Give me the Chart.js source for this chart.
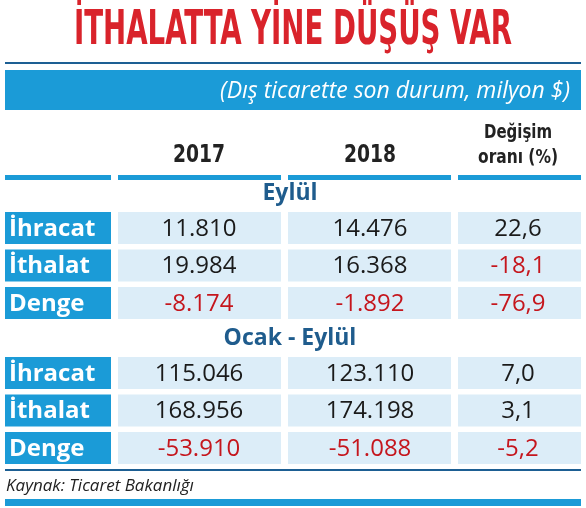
<!DOCTYPE html>
<html>
<head>
<meta charset="utf-8">
<script src="https://cdn.jsdelivr.net/npm/chart.js@4.4.0/dist/chart.umd.min.js"></script>
<style>
  html, body { margin: 0; padding: 0; background: #fff; }
  #wrap { width: 586px; height: 508px; }
</style>
</head>
<body>
<div id="wrap"><canvas id="tbl" width="586" height="508"></canvas></div>
<script>
// --- veriler ---
const title = "İTHALATTA YİNE DÜŞÜŞ VAR";
const subtitle = "(Dış ticarette son durum, milyon $)";
const columns = ["2017", "2018"];
const changeHeader = ["Değişim", "oranı (%)"];
const sections = ["Eylül", "Ocak - Eylül"];
const rowLabels = ["İhracat", "İthalat", "Denge"];
const eylul2017 = ["11.810", "19.984", "-8.174"];
const eylul2018 = ["14.476", "16.368", "-1.892"];
const eylulChange = ["22,6", "-18,1", "-76,9"];
const ocak2017 = ["115.046", "168.956", "-53.910"];
const ocak2018 = ["123.110", "174.198", "-51.088"];
const ocakChange = ["7,0", "3,1", "-5,2"];
const source = "Kaynak: Ticaret Bakanlığı";

const BLUE = "#1b9bd7";
const LIGHT = "#dcedf8";
const DARK = "#1d5f93";
const RED = "#c5161d";
const NAVY = "#1f5c8d";

const tablePlugin = {
  id: "tablePlugin",
  afterDraw(chart) {
    const ctx = chart.ctx;
    ctx.save();
    ctx.textBaseline = "middle";

    // başlık
    ctx.fillStyle = "#d9232b";
    ctx.font = "bold 48px 'DejaVu Sans Condensed', sans-serif";
    ctx.textAlign = "center";
    ctx.fillText(title, 293, 32, 438);

    ctx.fillStyle = DARK;
    ctx.fillRect(5, 62, 576, 2);

    // alt başlık bandı
    ctx.fillStyle = BLUE;
    ctx.fillRect(5, 70, 576, 40);
    ctx.fillStyle = "#fff";
    ctx.font = "italic 23px 'Open Sans', sans-serif";
    ctx.textAlign = "right";
    ctx.fillText(subtitle, 570, 91, 425);

    const colX = [199, 370, 518];
    const cells = [[118, 281], [288, 451], [458, 581]];

    // sütun başlıkları
    ctx.fillStyle = "#222";
    ctx.textAlign = "center";
    ctx.font = "bold 24px 'DejaVu Sans Condensed', sans-serif";
    ctx.fillText(columns[0], colX[0], 156, 52);
    ctx.fillText(columns[1], colX[1], 156, 52);
    ctx.font = "bold 19px 'DejaVu Sans Condensed', sans-serif";
    ctx.fillText(changeHeader[0], colX[2], 133, 68);
    ctx.fillText(changeHeader[1], colX[2], 158, 80);

    ctx.fillStyle = BLUE;
    ctx.fillRect(5, 175, 106, 5);
    cells.forEach(c => ctx.fillRect(c[0], 175, c[1] - c[0], 5));

    const blocks = [
      { top: 193, rows: [eylul2017, eylul2018, eylulChange], y0: 212 },
      { top: 338, rows: [ocak2017, ocak2018, ocakChange], y0: 357 },
    ];
    blocks.forEach((b, bi) => {
      ctx.fillStyle = NAVY;
      ctx.font = "bold 23px 'Open Sans', sans-serif";
      ctx.textAlign = "center";
      ctx.fillText(sections[bi], 290, b.top);
      for (let r = 0; r < rowLabels.length; r++) {
        const y = b.y0 + r * 37.5;
        const h = 32;
        ctx.fillStyle = BLUE;
        ctx.fillRect(5, y, 106, h);
        ctx.fillStyle = "#fff";
        ctx.font = "bold 24px 'Open Sans', sans-serif";
        ctx.textAlign = "left";
        ctx.fillText(rowLabels[r], 9, y + h / 2 + 1, 90);
        for (let c = 0; c < 3; c++) {
          ctx.fillStyle = LIGHT;
          ctx.fillRect(cells[c][0], y, cells[c][1] - cells[c][0], h);
          const v = b.rows[c][r];
          ctx.fillStyle = v.startsWith("-") ? RED : "#1a1a1a";
          ctx.font = "24px 'Open Sans', sans-serif";
          ctx.textAlign = "center";
          ctx.fillText(v, colX[c], y + h / 2 + 1);
        }
      }
    });

    ctx.fillStyle = DARK;
    ctx.fillRect(5, 469, 576, 2);
    ctx.fillStyle = "#222";
    ctx.font = "italic 17px 'Open Sans', sans-serif";
    ctx.textAlign = "left";
    ctx.fillText(source, 6, 486);
    ctx.fillStyle = BLUE;
    ctx.fillRect(5, 499, 576, 7);
    ctx.restore();
  }
};

new Chart(document.getElementById("tbl"), {
  type: "bar",
  data: { labels: [], datasets: [] },
  options: {
    responsive: false,
    animation: false,
    plugins: { legend: { display: false }, tooltip: { enabled: false } },
    scales: { x: { display: false }, y: { display: false } },
  },
  plugins: [tablePlugin],
});
</script>
</body>
</html>
